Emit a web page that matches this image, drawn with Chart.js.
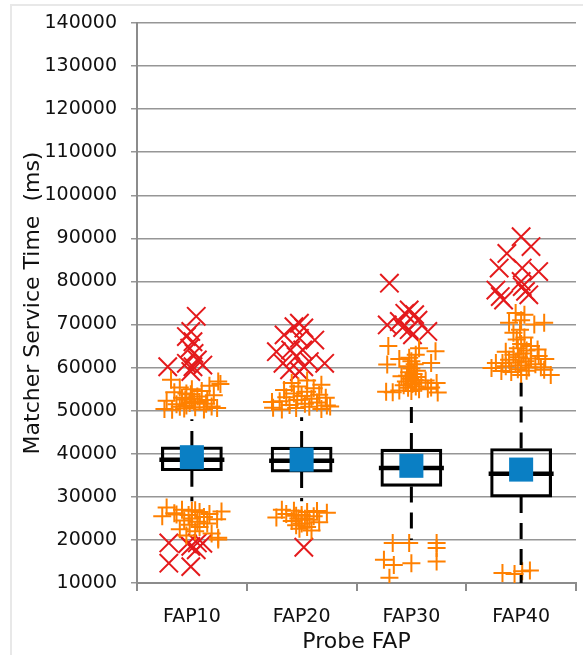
<!DOCTYPE html>
<html>
<head>
<meta charset="utf-8">
<title>Matcher Service Time by Probe FAP</title>
<script src="https://cdn.jsdelivr.net/npm/chart.js@4.4.1/dist/chart.umd.min.js"></script>
<style>
  html, body { margin: 0; padding: 0; background: #ffffff; }
  #wrap { position: relative; width: 583px; height: 655px; overflow: hidden; }
  #frame { position: absolute; left: 10px; top: 4px; width: 700px; height: 700px;
           border: 2px solid #e8e8e8; box-sizing: border-box; }
  #chart { position: absolute; left: 0; top: 0; }
</style>
</head>
<body>
<div id="wrap">
  <div id="frame"></div>
  <canvas id="chart" width="583" height="655"></canvas>
</div>
<script>
// Probe FAP groups
const categories = ['FAP10', 'FAP20', 'FAP30', 'FAP40'];

// Box statistics (ms)
const q1Values     = [36050, 35750, 32420, 29950];
const q3Values     = [41600, 41550, 41090, 41230];
const medianValues = [38600, 38380, 36680, 35360];
const meanValues   = [39200, 38650, 37210, 36330];
const whiskerLow   = [29000, 29000, 20000, 10000];
const whiskerHigh  = [48000, 48500, 52500, 56500];

// Y axis ticks
const yMin = 10000, yMax = 140000, yStep = 10000;

// Outliers: [horizontal jitter in category units, value in ms]
const fap10Mild = [
  [-0.18,50200],[-0.07,50500],[0.03,50800],[0.11,50300],[0.18,51000],[0.23,50600],[-0.14,51500],
  [-0.02,51800],[0.07,52000],[-0.23,52300],[0.14,52500],[0,52800],[-0.09,53000],[0.05,53300],
  [0.20,53600],[-0.05,54000],[-0.16,54300],[0.09,54600],[0,55000],[-0.11,55400],[0.16,55800],
  [0.26,56200],[-0.05,51200],[-0.25,50400],[0.02,52100],[-0.01,53800],[-0.11,50900],[0.13,51600],
  [-0.06,52600],[0.24,56800],[-0.19,57200],
  [-0.23,27500],[-0.09,27000],[0,26800],[0.07,26500],[-0.16,26200],[0.16,26000],[-0.03,25800],
  [-0.27,25500],[0.11,25300],[0,25000],[0.23,24800],[-0.07,24500],[0.05,24200],[0.14,23800],
  [-0.02,23500],[0.07,23000],[-0.11,22500],[0.03,22000],[0.18,21500],[-0.05,21000],[0.24,20500],
  [0.27,26600],[-0.14,25900],[0.03,26900],[0.24,20100]
];
const fap10Extreme = [
  [0.04,71900],[-0.05,67200],[-0.01,68400],[0.01,66000],[-0.02,64500],[0.02,63300],[-0.22,60200],
  [-0.05,61000],[0.01,60200],[0.10,60600],[-0.01,59100],[0.05,61800],
  [-0.21,19300],[-0.21,14600],[-0.01,13800],[-0.01,18500],[0.05,19300],[0.10,19200],[-0.04,19100],
  [0.04,17700]
];
const fap20Mild = [
  [-0.18,50300],[-0.05,50600],[0.07,50900],[0.18,50400],[0.26,51000],[-0.26,50700],[-0.11,51300],
  [0.03,51600],[0.14,51900],[-0.20,52200],[-0.04,52500],[0.09,52800],[-0.14,53100],[0,53400],
  [0.16,53700],[-0.07,54000],[0.05,54400],[-0.16,54800],[0.11,55200],[-0.03,55600],[0.18,56000],
  [-0.09,56400],[0.05,57000],[0.23,51200],[-0.27,52000],[0.22,53000],
  [-0.18,27000],[-0.07,26800],[0.05,26500],[0.23,26300],[-0.14,26000],[0,25800],[0.11,25500],
  [-0.23,25200],[-0.03,25000],[0.07,24700],[-0.09,24400],[0.16,24100],[0,23800],[-0.05,23400],
  [0.05,23000],[-0.02,22600],[0.09,22200],[0.14,26700],[-0.05,25600],[0.03,24900]
];
const fap20Extreme = [
  [-0.02,70300],[-0.07,69500],[0.02,69200],[-0.16,67600],[-0.02,66800],[0.12,66400],[-0.23,63700],
  [-0.10,64100],[0.01,64100],[-0.05,62600],[0.21,61000],[-0.17,61000],[0.02,60200],[-0.02,59100],
  [-0.11,59500],[0.07,61400],
  [0.02,18300]
];
const fap30Mild = [
  [-0.21,65000],[0.22,63800],[-0.22,60700],[0.18,61100],[-0.17,54300],[0.23,56400],[0.24,54200],
  [-0.23,54400],[0.07,55000],[-0.03,55300],[0.04,55600],[-0.07,55900],[0.01,56200],[0.09,56500],
  [-0.05,56800],[0.03,57100],[-0.01,57400],[0.05,57800],[-0.04,58100],[0.02,58500],[-0.02,58900],
  [0.05,59300],[0,59800],[-0.03,60300],[0.03,60800],[0,61500],[-0.02,62300],[0.04,63000],
  [0.15,55100],[-0.11,54700],[0.13,57000],[-0.09,58000],[-0.11,62000],[0.07,64500],[0,54600],
  [0.18,55400],
  [-0.17,19300],[-0.02,19300],[0.23,19300],[0.23,18100],[-0.25,15400],[-0.16,14200],[0,14600],
  [0.23,15000],[-0.20,11200]
];
const fap30Extreme = [
  [-0.20,79600],[-0.02,73400],[-0.06,72600],[0.03,72300],[-0.22,69900],[-0.11,70700],[-0.02,68800],
  [0.15,68400],[0.01,67600],[-0.08,69300],[0.06,71000]
];
const fap40Mild = [
  [-0.05,72700],[0.03,72300],[0.21,70400],[-0.11,70400],[0.12,70000],[-0.07,68100],[-0.04,66500],
  [0.09,65000],[0.15,64200],[-0.23,61100],[-0.17,61100],[-0.27,59900],[0.21,59500],[0.27,58300],
  [0,58300],[-0.09,59000],[0.05,59300],[-0.03,59600],[0.07,60000],[-0.14,60300],[0,60500],
  [0.13,60800],[-0.05,61200],[0.04,61500],[-0.11,61800],[0.09,62100],[-0.02,62400],[0.16,62700],
  [-0.07,63000],[0.02,63300],[-0.14,63700],[0.05,64000],[-0.03,64500],[0,65500],[0.03,67000],
  [-0.01,68800],[0,71000],[0.18,60100],[0.22,62000],[-0.18,59200],
  [-0.17,12300],[-0.06,12100],[0.01,12700],[0.08,12900]
];
const fap40Extreme = [
  [0,90400],[0.09,88100],[-0.13,86500],[-0.20,83100],[0.01,83100],[0.16,82300],[0,80000],
  [-0.23,78000],[-0.19,76500],[0.04,77700],[0.01,78800],[0.07,76900],[-0.16,75700]
];

const mildByCategory    = [fap10Mild, fap20Mild, fap30Mild, fap40Mild];
const extremeByCategory = [fap10Extreme, fap20Extreme, fap30Extreme, fap40Extreme];

// ---- build chart data from the arrays above ----
const toPoints = groups => groups.flatMap((list, i) =>
  list.map(([offset, value]) => ({ x: i + offset, y: value })));

const whiskerPoints = [];
categories.forEach((_, i) => {
  whiskerPoints.push(
    { x: i, y: q3Values[i] }, { x: i, y: whiskerHigh[i] }, { x: i, y: null },
    { x: i, y: q1Values[i] }, { x: i, y: whiskerLow[i] },  { x: i, y: null }
  );
});

const AXIS_GREY = '#8c8c8c';
const GRID_GREY = '#969696';
const TEXT = '#111111';
const tickFont  = { family: 'DejaVu Sans', size: 19 };
const titleFont = { family: 'DejaVu Sans', size: 22 };

// tick marks only on the group boundaries (half-integer positions)
const isGroupCentre = ctx => !!(ctx && ctx.tick && Number.isInteger(ctx.tick.value));

new Chart(document.getElementById('chart'), {
  type: 'bar',
  data: {
    datasets: [
      {
        type: 'scatter', label: 'Extreme outliers', order: 6,
        data: toPoints(extremeByCategory),
        pointStyle: 'crossRot', pointRadius: 13, borderWidth: 2,
        borderColor: '#e41a1c', backgroundColor: '#e41a1c'
      },
      {
        type: 'scatter', label: 'Mild outliers', order: 5,
        data: toPoints(mildByCategory),
        pointStyle: 'cross', pointRadius: 9, borderWidth: 2,
        borderColor: '#ff8000', backgroundColor: '#ff8000'
      },
      {
        type: 'line', label: 'Whiskers', order: 4,
        data: whiskerPoints, spanGaps: false,
        borderColor: '#000000', borderWidth: 3, borderDash: [16, 10],
        pointRadius: 0, fill: false
      },
      {
        type: 'bar', label: 'Interquartile range', order: 3,
        data: categories.map((_, i) => ({ x: i, y: [q1Values[i], q3Values[i]] })),
        backgroundColor: 'rgba(255,255,255,0)', borderColor: '#000000',
        borderWidth: 2.5, borderSkipped: false,
        barThickness: 'flex', barPercentage: 0.557, categoryPercentage: 1
      },
      {
        type: 'scatter', label: 'Median', order: 2,
        data: medianValues.map((v, i) => ({ x: i, y: v })),
        pointStyle: 'line', pointRadius: 32.5, borderWidth: 4.5, borderColor: '#000000'
      },
      {
        type: 'scatter', label: 'Mean', order: 1,
        data: meanValues.map((v, i) => ({ x: i, y: v })),
        pointStyle: 'rect', pointRadius: 17, borderWidth: 0,
        backgroundColor: '#0a7fc4', borderColor: '#0a7fc4'
      }
    ]
  },
  options: {
    responsive: false,
    animation: false,
    events: [],
    layout: { autoPadding: false, padding: { top: 23, right: 7, bottom: 0, left: 0 } },
    plugins: { legend: { display: false }, tooltip: { enabled: false } },
    scales: {
      x: {
        type: 'linear',
        min: -0.5, max: categories.length - 0.5,
        offset: false,
        grid: {
          offset: false,
          drawOnChartArea: false, drawTicks: true, tickLength: 8, lineWidth: 2,
          color: ctx => isGroupCentre(ctx) ? 'rgba(0,0,0,0)' : AXIS_GREY
        },
        border: { display: true, color: AXIS_GREY, width: 2 },
        ticks: {
          stepSize: 0.5, autoSkip: false, maxRotation: 0, minRotation: 0,
          font: tickFont, color: TEXT, padding: 15,
          callback: v => Number.isInteger(v) ? categories[v] : ''
        },
        title: { display: true, text: 'Probe FAP', font: titleFont, color: TEXT,
                 padding: { top: 0, bottom: 0 } },
        afterFit: s => { s.height = 72; s.paddingLeft = 0; s.paddingRight = 0; }
      },
      y: {
        min: yMin, max: yMax,
        ticks: { stepSize: yStep, font: tickFont, color: TEXT, padding: 14,
                 callback: v => String(v) },
        grid: { color: GRID_GREY, lineWidth: 1.5, tickLength: 6 },
        border: { display: true, color: AXIS_GREY, width: 2 },
        title: { display: true, text: 'Matcher Service Time  (ms)', font: titleFont, color: TEXT,
                 padding: { top: 20, bottom: 0 } },
        afterFit: s => { s.width = 137; s.paddingTop = 0; s.paddingBottom = 0; }
      }
    }
  }
});
</script>
</body>
</html>
